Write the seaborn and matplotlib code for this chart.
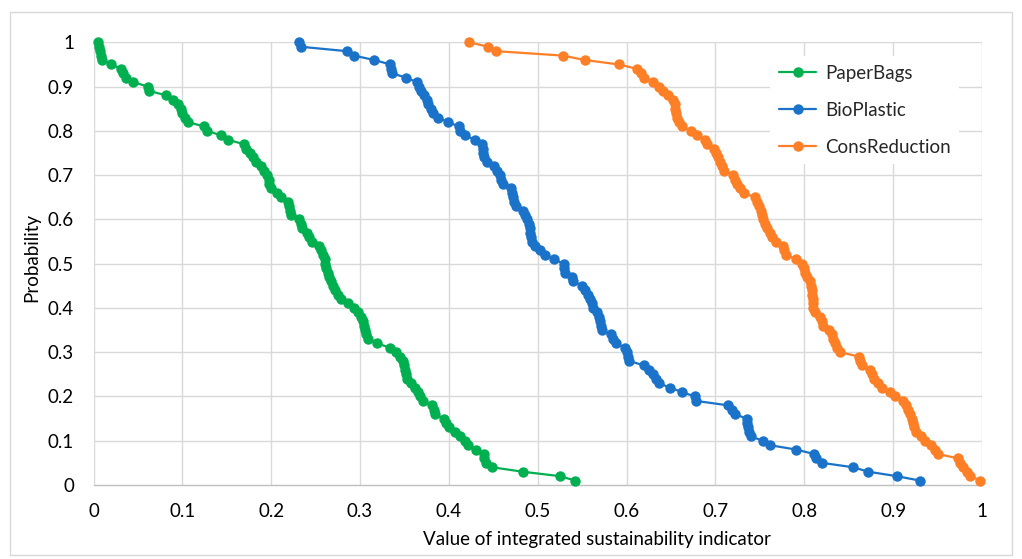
import numpy as np
import pandas as pd
import matplotlib
matplotlib.use("Agg")
import matplotlib.pyplot as plt
import seaborn as sns
from matplotlib.lines import Line2D
from matplotlib.patches import Rectangle

probability = [round(1.00 - 0.01 * i, 2) for i in range(100)]

paper_bags = [
    0.005, 0.006, 0.007, 0.008, 0.010, 0.020, 0.031, 0.033, 0.037, 0.045,
    0.061, 0.063, 0.082, 0.089, 0.095, 0.098, 0.100, 0.103, 0.106, 0.124,
    0.128, 0.143, 0.151, 0.169, 0.172, 0.176, 0.180, 0.183, 0.188, 0.192,
    0.195, 0.197, 0.198, 0.200, 0.206, 0.211, 0.219, 0.220, 0.221, 0.222,
    0.231, 0.233, 0.235, 0.240, 0.243, 0.246, 0.254, 0.256, 0.258, 0.260,
    0.261, 0.262, 0.264, 0.265, 0.267, 0.269, 0.272, 0.275, 0.279, 0.287,
    0.293, 0.298, 0.301, 0.303, 0.304, 0.306, 0.307, 0.309, 0.319, 0.334,
    0.341, 0.345, 0.348, 0.350, 0.351, 0.352, 0.353, 0.357, 0.362, 0.365,
    0.368, 0.371, 0.381, 0.383, 0.384, 0.394, 0.397, 0.400, 0.407, 0.412,
    0.418, 0.422, 0.430, 0.439, 0.440, 0.442, 0.449, 0.483, 0.525, 0.542,
]

bio_plastic = [
    0.231, 0.233, 0.285, 0.293, 0.316, 0.334, 0.335, 0.336, 0.352, 0.364,
    0.366, 0.369, 0.372, 0.375, 0.377, 0.380, 0.382, 0.388, 0.399, 0.411,
    0.413, 0.418, 0.429, 0.437, 0.438, 0.438, 0.439, 0.443, 0.451, 0.454,
    0.457, 0.459, 0.461, 0.470, 0.471, 0.472, 0.473, 0.475, 0.483, 0.486,
    0.488, 0.490, 0.491, 0.491, 0.492, 0.494, 0.497, 0.503, 0.508, 0.518,
    0.529, 0.530, 0.531, 0.538, 0.540, 0.550, 0.553, 0.557, 0.559, 0.561,
    0.562, 0.567, 0.569, 0.570, 0.571, 0.572, 0.582, 0.585, 0.588, 0.598,
    0.600, 0.602, 0.603, 0.620, 0.625, 0.630, 0.633, 0.636, 0.649, 0.662,
    0.677, 0.678, 0.714, 0.719, 0.722, 0.735, 0.736, 0.737, 0.738, 0.740,
    0.753, 0.761, 0.791, 0.811, 0.813, 0.820, 0.855, 0.872, 0.904, 0.930,
]

cons_reduction = [
    0.423, 0.444, 0.453, 0.528, 0.553, 0.591, 0.612, 0.616, 0.620, 0.630,
    0.636, 0.641, 0.647, 0.652, 0.654, 0.655, 0.656, 0.657, 0.659, 0.662,
    0.672, 0.679, 0.688, 0.691, 0.698, 0.701, 0.703, 0.705, 0.707, 0.710,
    0.720, 0.722, 0.724, 0.728, 0.732, 0.744, 0.747, 0.749, 0.751, 0.752,
    0.754, 0.756, 0.758, 0.761, 0.764, 0.768, 0.776, 0.777, 0.779, 0.791,
    0.797, 0.800, 0.801, 0.803, 0.806, 0.808, 0.809, 0.809, 0.810, 0.810,
    0.810, 0.812, 0.818, 0.820, 0.821, 0.828, 0.831, 0.832, 0.834, 0.837,
    0.840, 0.862, 0.863, 0.865, 0.874, 0.876, 0.878, 0.883, 0.887, 0.896,
    0.902, 0.911, 0.914, 0.917, 0.919, 0.921, 0.922, 0.924, 0.926, 0.931,
    0.936, 0.943, 0.947, 0.951, 0.973, 0.975, 0.979, 0.983, 0.987, 0.998,
]

series_names = ["PaperBags", "BioPlastic", "ConsReduction"]
series_colors = ["#00B050", "#1A73C8", "#FF7F27"]
x_ticks = [0, 0.1, 0.2, 0.3, 0.4, 0.5, 0.6, 0.7, 0.8, 0.9, 1]
x_tick_labels = ["0", "0.1", "0.2", "0.3", "0.4", "0.5", "0.6", "0.7", "0.8", "0.9", "1"]
y_ticks = [0, 0.1, 0.2, 0.3, 0.4, 0.5, 0.6, 0.7, 0.8, 0.9, 1]
y_tick_labels = ["0", "0.1", "0.2", "0.3", "0.4", "0.5", "0.6", "0.7", "0.8", "0.9", "1"]

frames = []
for name, vals in zip(series_names, [paper_bags, bio_plastic, cons_reduction]):
    frames.append(pd.DataFrame({"value": vals, "prob": probability, "series": name}))
df = pd.concat(frames, ignore_index=True)

sns.set_theme(style="white")
plt.rcParams["font.family"] = ["Lato", "DejaVu Sans"]

FS = 13.5
MS = 7.5
W, H = 1022, 559
fig = plt.figure(figsize=(W / 100, H / 100), dpi=100)
ax = fig.add_axes([93.5 / W, (H - 485) / H, (982 - 93.5) / W, (485 - 42.3) / H])

ax.set_axisbelow(True)
for v in x_ticks:
    ax.axvline(v, color="#D9D9D9", lw=1.0, zorder=0)
for v in y_ticks[1:]:
    ax.axhline(v, color="#D9D9D9", lw=1.0, zorder=0)

sns.lineplot(data=df, x="value", y="prob", hue="series", hue_order=series_names,
             palette=series_colors, sort=False, estimator=None, marker="o",
             markersize=MS, markeredgewidth=0, linewidth=1.6, ax=ax, legend=False,
             clip_on=False, zorder=3)

ax.set_xlim(0, 1)
ax.set_ylim(0, 1)
ax.set_xticks(x_ticks)
ax.set_xticklabels(x_tick_labels)
ax.set_yticks(y_ticks)
ax.set_yticklabels(y_tick_labels)
ax.tick_params(axis="both", length=0, labelsize=FS, colors="#000000")
ax.tick_params(axis="x", pad=13)
ax.tick_params(axis="y", pad=14)
for s in ["top", "right", "left"]:
    ax.spines[s].set_visible(False)
ax.spines["bottom"].set_color("#BFBFBF")
ax.spines["bottom"].set_linewidth(1.0)

ax.set_xlabel("Value of integrated sustainability indicator", fontsize=FS, color="#000000")
ax.set_ylabel("Probability", fontsize=FS, color="#000000")
ax.xaxis.set_label_coords((597 - 93.5) / (982 - 93.5), -(540 - 485) / (485 - 42.3))
ax.yaxis.set_label_coords(-(93.5 - 32) / (982 - 93.5), (485 - 258) / (485 - 42.3))
ax.xaxis.label.set_va("center")
ax.yaxis.label.set_va("center")

handles = [Line2D([0], [0], color=c, lw=1.6, marker="o", markersize=MS, markeredgewidth=0)
           for c in series_colors]
leg = fig.legend(handles, series_names, loc="upper left",
                 bbox_to_anchor=(761 / W, (H - 47) / H), fontsize=FS,
                 frameon=True, handlelength=2.0, labelspacing=1.07,
                 borderpad=0.45, handletextpad=0.45)
leg.get_frame().set_facecolor("white")
leg.get_frame().set_edgecolor("none")
leg.get_frame().set_alpha(1.0)

fig.patches.append(Rectangle((10 / W, 4 / H), (1012 - 10) / W, (547 - 4) / H,
                             transform=fig.transFigure, fill=False,
                             edgecolor="#D9D9D9", lw=1.0))

fig.savefig("out.png", dpi=100, facecolor="white")
